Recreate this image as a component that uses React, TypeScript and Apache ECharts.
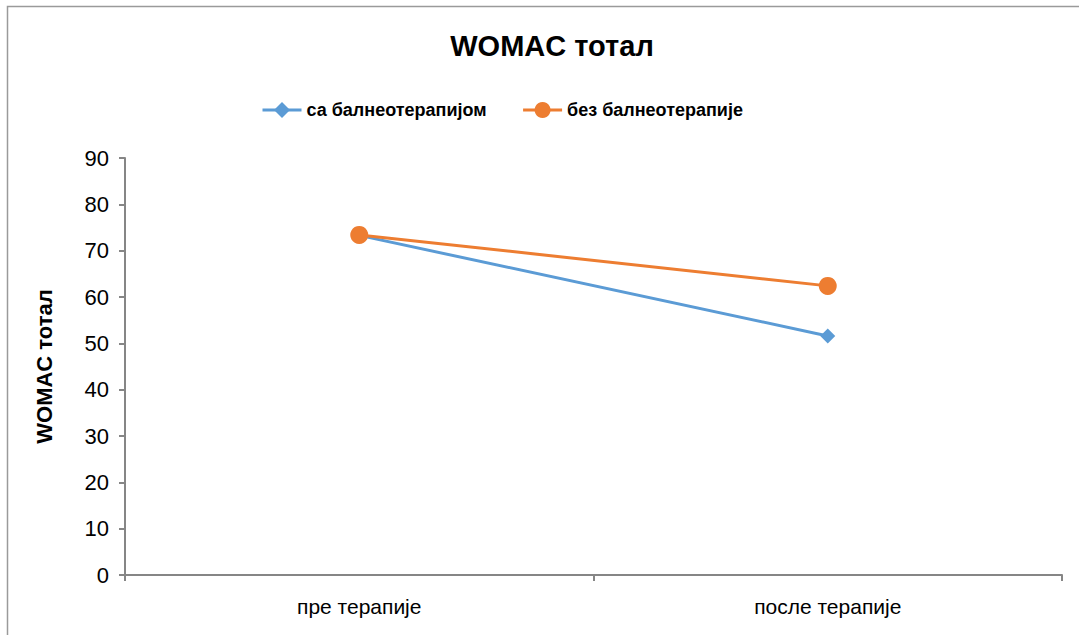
import React, { useEffect, useRef } from "react";
import * as echarts from "echarts";

const categories = ["пре терапије", "после терапије"];
const seriesNames = ["са балнеотерапијом", "без балнеотерапије"];
const withBalneo = [73.3, 51.6];
const withoutBalneo = [73.4, 62.4];
const yTicks = { min: 0, max: 90, interval: 10 };
const titleText = "WOMAC тотал";
const yAxisName = "WOMAC тотал";

const FONT = "'Liberation Sans', Arial, sans-serif";

export default function App() {
  const ref = useRef<HTMLDivElement>(null);
  useEffect(() => {
    if (!ref.current) return;
    const chart = echarts.init(ref.current, null, { renderer: "svg" });
    chart.setOption({
      animation: false,
      backgroundColor: "#ffffff",
      textStyle: { fontFamily: FONT },
      title: {
        text: titleText,
        left: 547,
        textAlign: "center",
        top: 26,
        textStyle: { fontSize: 29, fontWeight: "bold", color: "#000", fontFamily: FONT },
      },
      legend: {
        left: 256,
        top: 96,
        itemWidth: 39,
        itemHeight: 20,
        itemGap: 35,
        lineStyle: { width: 3 },
        textStyle: { fontSize: 18, fontWeight: "bold", color: "#000", fontFamily: FONT },
        data: seriesNames,
      },
      graphic: [
        {
          type: "rect",
          shape: { x: 7.5, y: 6.5, width: 1200, height: 800 },
          style: { fill: "none", stroke: "#9a9a9a", lineWidth: 1.5 },
          silent: true,
          z: -1,
        },
      ],
      grid: { left: 125, right: 17, top: 158, bottom: 60, containLabel: false },
      xAxis: {
        type: "category",
        data: categories,
        boundaryGap: true,
        axisLine: { lineStyle: { color: "#868686", width: 2 } },
        axisTick: { show: true, length: 6, lineStyle: { color: "#868686", width: 2 } },
        axisLabel: { fontSize: 21, color: "#000", margin: 21, fontFamily: FONT },
        splitLine: { show: false },
      },
      yAxis: {
        type: "value",
        min: yTicks.min,
        max: yTicks.max,
        interval: yTicks.interval,
        name: yAxisName,
        nameLocation: "middle",
        nameGap: 70,
        nameTextStyle: { fontSize: 22, fontWeight: "bold", color: "#000", fontFamily: FONT },
        axisLine: { show: true, lineStyle: { color: "#868686", width: 2 } },
        axisTick: { show: true, length: 6, lineStyle: { color: "#868686", width: 2 } },
        axisLabel: { fontSize: 22, color: "#000", margin: 16, fontFamily: FONT },
        splitLine: { show: false },
      },
      series: [
        {
          name: seriesNames[0],
          type: "line",
          data: withBalneo,
          symbol: "diamond",
          symbolSize: 15,
          lineStyle: { color: "#5B9BD5", width: 3 },
          itemStyle: { color: "#5B9BD5" },
        },
        {
          name: seriesNames[1],
          type: "line",
          data: withoutBalneo,
          symbol: "circle",
          symbolSize: 18,
          lineStyle: { color: "#ED7D31", width: 3 },
          itemStyle: { color: "#ED7D31" },
        },
      ],
    });
    return () => chart.dispose();
  }, []);
  return (
    <div
      ref={ref}
      style={{ position: "fixed", left: 0, top: 0, width: 1079, height: 635 }}
    />
  );
}
